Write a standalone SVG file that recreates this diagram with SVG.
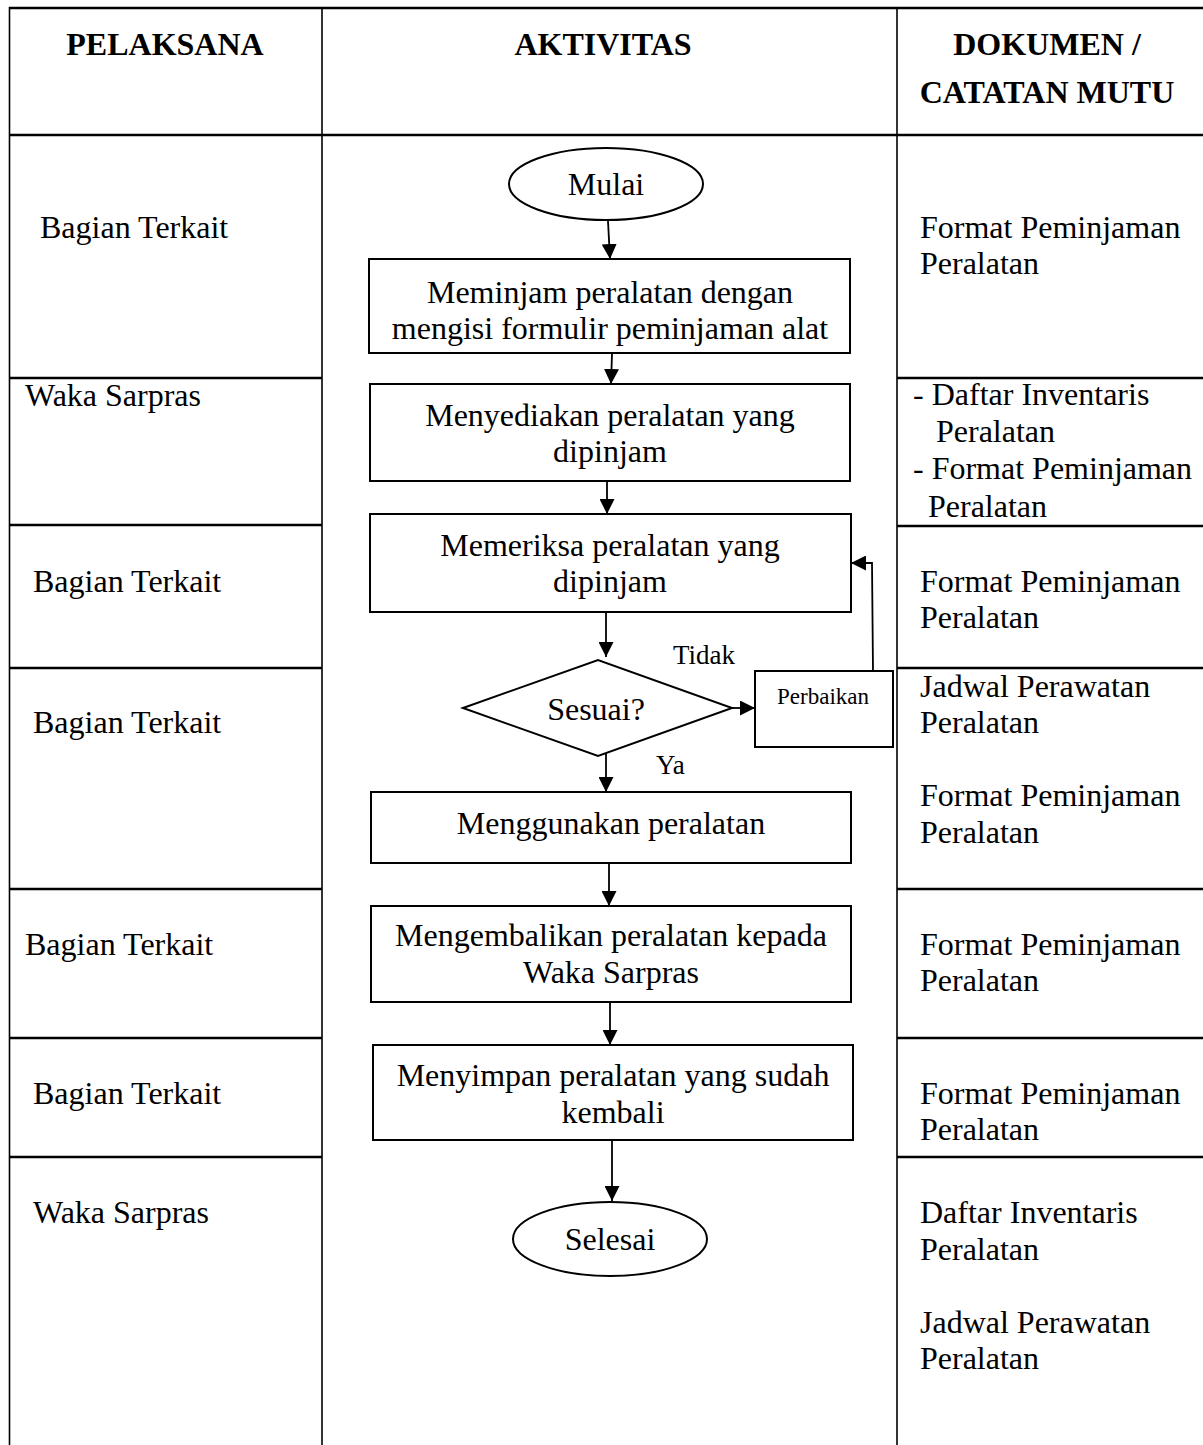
<svg xmlns="http://www.w3.org/2000/svg" width="1203" height="1445" viewBox="0 0 1203 1445">
<defs>
<style>
text{font-family:"Liberation Serif","Times New Roman",serif;fill:#000}
.h{font-size:32px;font-weight:bold;text-anchor:middle}
.t{font-size:32px}
.c{font-size:32px;text-anchor:middle}
.s{font-size:27px}
.grid line{stroke:#000;stroke-width:2.5}
.grid .v{stroke-width:1.6}
.shape{fill:#fff;stroke:#000;stroke-width:2}
.conn{stroke:#000;stroke-width:1.8;fill:none;marker-end:url(#ah)}
</style>
<marker id="ah" viewBox="0 0 15 15" refX="15" refY="7.5" markerWidth="15" markerHeight="15" markerUnits="userSpaceOnUse" orient="auto">
<path d="M0,0 L15,7.5 L0,15 z" fill="#000"/>
</marker>
</defs>
<rect width="1203" height="1445" fill="#fff"/>
<g id="table" class="grid">
<line x1="9" y1="8" x2="1203" y2="8"/>
<line x1="9" y1="135" x2="1203" y2="135"/>
<line class="v" x1="9.5" y1="7" x2="9.5" y2="1445"/>
<line class="v" x1="322" y1="7" x2="322" y2="1445"/>
<line class="v" x1="897" y1="7" x2="897" y2="1445"/>
<line x1="9" y1="378" x2="322" y2="378"/>
<line x1="9" y1="525" x2="322" y2="525"/>
<line x1="9" y1="668" x2="322" y2="668"/>
<line x1="9" y1="889" x2="322" y2="889"/>
<line x1="9" y1="1038" x2="322" y2="1038"/>
<line x1="9" y1="1157" x2="322" y2="1157"/>
<line x1="897" y1="378" x2="1203" y2="378"/>
<line x1="897" y1="526" x2="1203" y2="526"/>
<line x1="897" y1="668" x2="1203" y2="668"/>
<line x1="897" y1="889" x2="1203" y2="889"/>
<line x1="897" y1="1038" x2="1203" y2="1038"/>
<line x1="897" y1="1157" x2="1203" y2="1157"/>
</g>
<g id="headers">
<text class="h" x="165" y="55">PELAKSANA</text>
<text class="h" x="603" y="55">AKTIVITAS</text>
<text class="h" x="1047" y="55">DOKUMEN /</text>
<text class="h" x="1047" y="103">CATATAN MUTU</text>
</g>
<g id="pelaksana">
<text class="t" x="40" y="238">Bagian Terkait</text>
<text class="t" x="25" y="406">Waka Sarpras</text>
<text class="t" x="33" y="592">Bagian Terkait</text>
<text class="t" x="33" y="733">Bagian Terkait</text>
<text class="t" x="25" y="955">Bagian Terkait</text>
<text class="t" x="33" y="1104">Bagian Terkait</text>
<text class="t" x="33" y="1223">Waka Sarpras</text>
</g>
<g id="dokumen">
<text class="t" x="920" y="238">Format Peminjaman</text>
<text class="t" x="920" y="274">Peralatan</text>
<text class="t" x="913" y="405">- Daftar Inventaris</text>
<text class="t" x="936" y="442">Peralatan</text>
<text class="t" x="913" y="479">- Format Peminjaman</text>
<text class="t" x="928" y="517">Peralatan</text>
<text class="t" x="920" y="592">Format Peminjaman</text>
<text class="t" x="920" y="628">Peralatan</text>
<text class="t" x="920" y="697">Jadwal Perawatan</text>
<text class="t" x="920" y="733">Peralatan</text>
<text class="t" x="920" y="806">Format Peminjaman</text>
<text class="t" x="920" y="843">Peralatan</text>
<text class="t" x="920" y="955">Format Peminjaman</text>
<text class="t" x="920" y="991">Peralatan</text>
<text class="t" x="920" y="1104">Format Peminjaman</text>
<text class="t" x="920" y="1140">Peralatan</text>
<text class="t" x="920" y="1223">Daftar Inventaris</text>
<text class="t" x="920" y="1260">Peralatan</text>
<text class="t" x="920" y="1333">Jadwal Perawatan</text>
<text class="t" x="920" y="1369">Peralatan</text>
</g>
<g id="connectors">
<line class="conn" x1="608" y1="221" x2="610" y2="259"/>
<line class="conn" x1="612" y1="354" x2="611" y2="384"/>
<line class="conn" x1="607" y1="481" x2="607" y2="514"/>
<line class="conn" x1="606" y1="607" x2="606" y2="657"/>
<line class="conn" x1="732" y1="708" x2="755" y2="708"/>
<polyline class="conn" points="873,671 872,563 851,563"/>
<line class="conn" x1="606" y1="746" x2="606" y2="792"/>
<line class="conn" x1="609" y1="857" x2="609" y2="906"/>
<line class="conn" x1="610" y1="998" x2="610" y2="1045"/>
<line class="conn" x1="612" y1="1140" x2="612" y2="1201"/>
<text class="s" x="673" y="664">Tidak</text>
<text class="s" x="656" y="774">Ya</text>
</g>
<g id="mulai">
<ellipse class="shape" cx="606" cy="184" rx="97" ry="36"/>
<text class="c" x="606" y="195">Mulai</text>
</g>
<g id="meminjam">
<rect class="shape" x="369" y="259" width="481" height="94"/>
<text class="c" x="610" y="303">Meminjam peralatan dengan</text>
<text class="c" x="610" y="339">mengisi formulir peminjaman alat</text>
</g>
<g id="menyediakan">
<rect class="shape" x="370" y="384" width="480" height="97"/>
<text class="c" x="610" y="426">Menyediakan peralatan yang</text>
<text class="c" x="610" y="462">dipinjam</text>
</g>
<g id="memeriksa">
<rect class="shape" x="370" y="514" width="481" height="98"/>
<text class="c" x="610" y="556">Memeriksa peralatan yang</text>
<text class="c" x="610" y="592">dipinjam</text>
</g>
<g id="sesuai">
<polygon class="shape" points="463,708 598,660 732,708 598,756"/>
<text class="c" x="596" y="720">Sesuai?</text>
</g>
<g id="perbaikan">
<rect class="shape" x="755" y="671" width="138" height="76"/>
<text x="823" y="704" text-anchor="middle" font-size="23">Perbaikan</text>
</g>
<g id="menggunakan">
<rect class="shape" x="371" y="792" width="480" height="71"/>
<text class="c" x="611" y="834">Menggunakan peralatan</text>
</g>
<g id="mengembalikan">
<rect class="shape" x="371" y="906" width="480" height="96"/>
<text class="c" x="611" y="946">Mengembalikan peralatan kepada</text>
<text class="c" x="611" y="983">Waka Sarpras</text>
</g>
<g id="menyimpan">
<rect class="shape" x="373" y="1045" width="480" height="95"/>
<text class="c" x="613" y="1086">Menyimpan peralatan yang sudah</text>
<text class="c" x="613" y="1123">kembali</text>
</g>
<g id="selesai">
<ellipse class="shape" cx="610" cy="1239" rx="97" ry="37"/>
<text class="c" x="610" y="1250">Selesai</text>
</g>
</svg>
